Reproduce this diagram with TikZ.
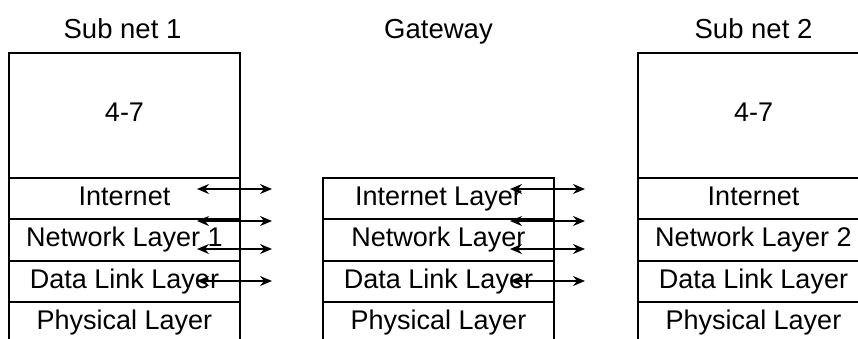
\documentclass[tikz,border=0pt]{standalone}
\usepackage{fontspec}
\setmainfont{Liberation Sans}
\usetikzlibrary{arrows.meta}
\tikzset{
  cell/.style={draw, line width=2pt, inner sep=0pt, minimum width=231pt,
    font=\fontsize{27}{32}\selectfont, text height=19.5pt, text depth=6pt},
  title/.style={inner sep=0pt, anchor=base, font=\fontsize{27.5}{32}\selectfont},
  link/.style={line width=1.3pt, {Stealth[length=12pt,width=10pt,inset=4pt]}-{Stealth[length=12pt,width=10pt,inset=4pt]}}
}
\begin{document}
\begin{tikzpicture}[x=1pt,y=1pt]
\useasboundingbox (0,0) rectangle (858,338);
\clip (0,0) rectangle (858,338);

% Sub net 1 stack
\node[title] (t1) at (122.5,299.7) {Sub net 1};
\node[cell, minimum height=125pt, text depth=0pt] (a47) at (124.5,222.5) {};
\node (a47t) at (124.5,226.5) [font=\fontsize{27}{32}\selectfont, inner sep=0pt, text height=19.5pt, text depth=0pt] {4-7};
\node[cell, minimum height=41pt] (aint) at (124.5,139.5) {Internet};
\node[cell, minimum height=42pt] (anet) at (124.5,98) {Network Layer 1};
\node[cell, minimum height=41pt] (adl)  at (124.5,56.5) {Data Link Layer};
\node[cell, minimum height=41pt] (aphy) at (124.5,15.5) {Physical Layer};

% Gateway stack
\node[title] (t2) at (438.5,299.7) {Gateway};
\node[cell, minimum height=41pt] (gint) at (438.5,139.5) {Internet Layer};
\node[cell, minimum height=42pt] (gnet) at (438.5,98) {Network Layer};
\node[cell, minimum height=41pt] (gdl)  at (438.5,56.5) {Data Link Layer};
\node[cell, minimum height=41pt] (gphy) at (438.5,15.5) {Physical Layer};

% Sub net 2 stack
\node[title] (t3) at (753.5,299.7) {Sub net 2};
\node[cell, minimum height=125pt] (b47) at (753.5,222.5) {};
\node (b47t) at (753.5,226.5) [font=\fontsize{27}{32}\selectfont, inner sep=0pt, text height=19.5pt, text depth=0pt] {4-7};
\node[cell, minimum height=41pt] (bint) at (753.5,139.5) {Internet};
\node[cell, minimum height=42pt] (bnet) at (753.5,98) {Network Layer 2};
\node[cell, minimum height=41pt] (bdl)  at (753.5,56.5) {Data Link Layer};
\node[cell, minimum height=41pt] (bphy) at (753.5,15.5) {Physical Layer};

% arrow end points
\foreach \n/\y in {1/149, 2/117, 3/89, 4/57} {
  \coordinate (l\n) at (197,\y);
  \coordinate (r\n) at (272,\y);
  \coordinate (m\n) at (510,\y);
  \coordinate (s\n) at (585,\y);
}
\foreach \n in {1,2,3,4} {
  \draw[link] (l\n) -- (r\n);
  \draw[link] (m\n) -- (s\n);
}
\end{tikzpicture}
\end{document}
